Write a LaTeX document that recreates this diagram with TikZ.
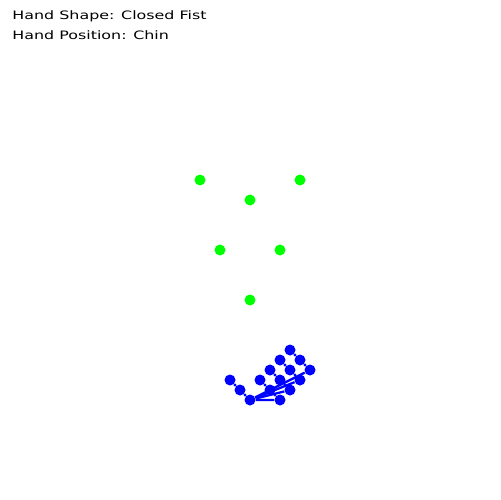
\documentclass[tikz,border=0pt]{standalone}
\usepackage{fontspec}
\setmainfont{DejaVu Sans}
\usetikzlibrary{arrows.meta}

\tikzset{
  caption/.style={anchor=base west,inner sep=0pt,xscale=1.37,font=\fontsize{6.6}{8}\selectfont},
  facept/.style={circle,fill=green,inner sep=0pt,minimum size=0.22cm},
  joint/.style={circle,fill=blue,inner sep=0pt,minimum size=0.22cm},
  bone/.style={blue,line width=0.045cm}
}

\begin{document}
\begin{tikzpicture}[x=0.02cm,y=-0.02cm]
\useasboundingbox (0,0) rectangle (500,500);

% --- text ---
\node[caption] (shape) at (12,20) {Hand Shape: Closed Fist};
\node[caption] (pos) at (12,39.3) {Hand Position: Chin};

% --- face ---
\foreach \n/\x/\y in {leye/200/180, reye/300/180, nose/250/200,
                      lcheek/220/250, rcheek/280/250, chin/250/300}
  \node[facept] (\n) at (\x,\y) {};

% --- hand ---
\foreach \n/\x/\y in {wrist/250/400, th1/240/390, th2/230/380,
                      ix1/280/400, ix2/270/390, ix3/260/380,
                      md1/290/390, md2/280/380, md3/270/370,
                      rg1/300/380, rg2/290/370, rg3/280/360,
                      pk1/310/370, pk2/300/360, pk3/290/350}
  \node[joint] (\n) at (\x,\y) {};

\draw[bone] (wrist) -- (th1) -- (th2);
\draw[bone] (wrist) -- (ix1) -- (ix2) -- (ix3);
\draw[bone] (wrist) -- (md1) -- (md2) -- (md3);
\draw[bone] (wrist) -- (rg1) -- (rg2) -- (rg3);
\draw[bone] (wrist) -- (pk1) -- (pk2) -- (pk3);

\end{tikzpicture}
\end{document}
